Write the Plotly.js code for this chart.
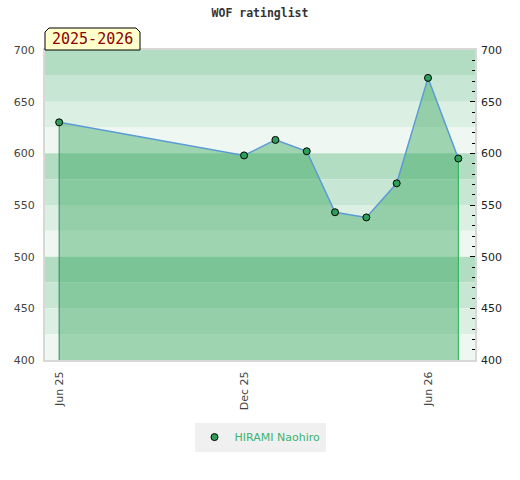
<!DOCTYPE html>
<html>
<head>
<meta charset="utf-8">
<script src="https://cdn.plot.ly/plotly-3.0.1.min.js"></script>
<style>
html,body{margin:0;padding:0;background:#fff;}
#chart{width:520px;height:480px;}
</style>
</head>
<body>
<div id="chart"></div>
<script>
// ---- data ----
var playerName = 'HIRAMI Naohiro';
var seasonLabel = '2025-2026';
var chartTitle = 'WOF ratinglist';
var dates = ['2025-06-01','2025-12-01','2026-01-01','2026-02-01','2026-03-01','2026-04-01','2026-05-01','2026-06-01','2026-07-01'];
var ratings = [630, 598, 613, 602, 543, 538, 571, 673, 595];
var yTickVals = [400, 450, 500, 550, 600, 650, 700];
var xTickVals = ['2025-06-01','2025-12-01','2026-06-01'];
var xTickText = ['Jun 25','Dec 25','Jun 26'];

// ---- styling ----
var yMin = 400, yMax = 700;
var bandColors = ['#b3ddc3', '#c8e6d4', '#dcefe3', '#eef7f1'];
var shapes = [];
var i = 0;
for (var v = yMax; v > yMin; v -= 25, i++) {
  shapes.push({type:'rect', xref:'paper', yref:'y', x0:0, x1:1, y0:v-25, y1:v,
    fillcolor: bandColors[i % 4], line:{width:0}, layer:'below'});
}
// season label box with cut corners (paper coords)
var bx0 = 0, bx1 = 95/430, by0 = 1, by1 = 1 + 22/310, cx = 4/430, cy = 4/310;
shapes.push({type:'path', xref:'paper', yref:'paper',
  path: 'M '+bx0+','+by0+' L '+bx0+','+(by1-cy)+' L '+(bx0+cx)+','+by1+' L '+(bx1-cx)+','+by1+
        ' L '+bx1+','+(by1-cy)+' L '+bx1+','+by0+' Z',
  fillcolor:'#ffffcc', line:{color:'#000', width:1}, layer:'above'});

var n = dates.length;
var traces = [
  {x: dates, y: ratings, type:'scatter', mode:'lines', fill:'tozeroy',
   fillcolor:'rgba(39,160,83,0.4)', line:{color:'#5b9bd5', width:1.5},
   showlegend:false, hoverinfo:'skip'},
  {x: [dates[0], dates[0]], y: [yMin, ratings[0]], type:'scatter', mode:'lines',
   line:{color:'#2e8b57', width:1}, showlegend:false, hoverinfo:'skip'},
  {x: [dates[n-1], dates[n-1]], y: [yMin, ratings[n-1]], type:'scatter', mode:'lines',
   line:{color:'#22b14c', width:1}, showlegend:false, hoverinfo:'skip'},
  {x: dates, y: ratings, type:'scatter', mode:'markers', name: playerName,
   marker:{color:'#2e9e5b', size:7, line:{color:'#000', width:1}}},
  {x: dates, y: ratings, type:'scatter', mode:'markers', yaxis:'y2',
   marker:{opacity:0}, showlegend:false, hoverinfo:'skip'}
];

var layout = {
  width:520, height:480,
  margin:{l:45, r:45, t:50, b:120},
  paper_bgcolor:'#fff', plot_bgcolor:'#fff',
  title:{text: chartTitle, x:0.5, xref:'paper', y:0.973, yanchor:'middle',
    font:{family:'DejaVu Sans Mono, monospace', size:11.5, color:'#333', weight:'bold'}},
  xaxis:{type:'date', range:['2025-05-18','2026-07-17 12:00'],
    tickvals: xTickVals, ticktext: xTickText, tickangle:-90,
    tickfont:{family:'DejaVu Sans, sans-serif', size:11, color:'#444'},
    showgrid:false, zeroline:false, showline:true, linecolor:'#d8d8d8', linewidth:2,
    mirror:true, ticks:'', ticklen:0, ticklabelstandoff:5},
  yaxis:{range:[yMin, yMax], tickvals: yTickVals, showgrid:false, zeroline:false,
    showline:true, linecolor:'#d8d8d8', linewidth:2, mirror:true, ticks:'',
    ticklabelstandoff:6,
    tickfont:{family:'DejaVu Sans, sans-serif', size:11, color:'#444'}},
  yaxis2:{range:[yMin, yMax], overlaying:'y', side:'right', tickvals: yTickVals,
    showgrid:false, zeroline:false, showline:false, ticks:'inside', ticklen:5,
    tickcolor:'#000', tickwidth:1, ticklabelstandoff:5,
    minor:{dtick:10, ticks:'inside', ticklen:3, tickcolor:'#000', tickwidth:1, showgrid:false},
    tickfont:{family:'DejaVu Sans, sans-serif', size:11, color:'#222'}},
  shapes: shapes,
  annotations:[{text: seasonLabel, xref:'paper', yref:'paper', x:(bx0+bx1)/2, y:(by0+by1)/2,
    xanchor:'center', yanchor:'middle', showarrow:false,
    font:{family:'DejaVu Sans Mono, monospace', size:15, color:'#8b0000'}}],
  legend:{orientation:'h', x:0.5, xanchor:'center', y:-0.202, yanchor:'top',
    bgcolor:'#f0f0f0', font:{family:'DejaVu Sans, sans-serif', size:11, color:'#3cb371'},
    itemwidth:30},
  showlegend:true
};

Plotly.newPlot('chart', traces, layout, {displayModeBar:false, staticPlot:true});
</script>
</body>
</html>
